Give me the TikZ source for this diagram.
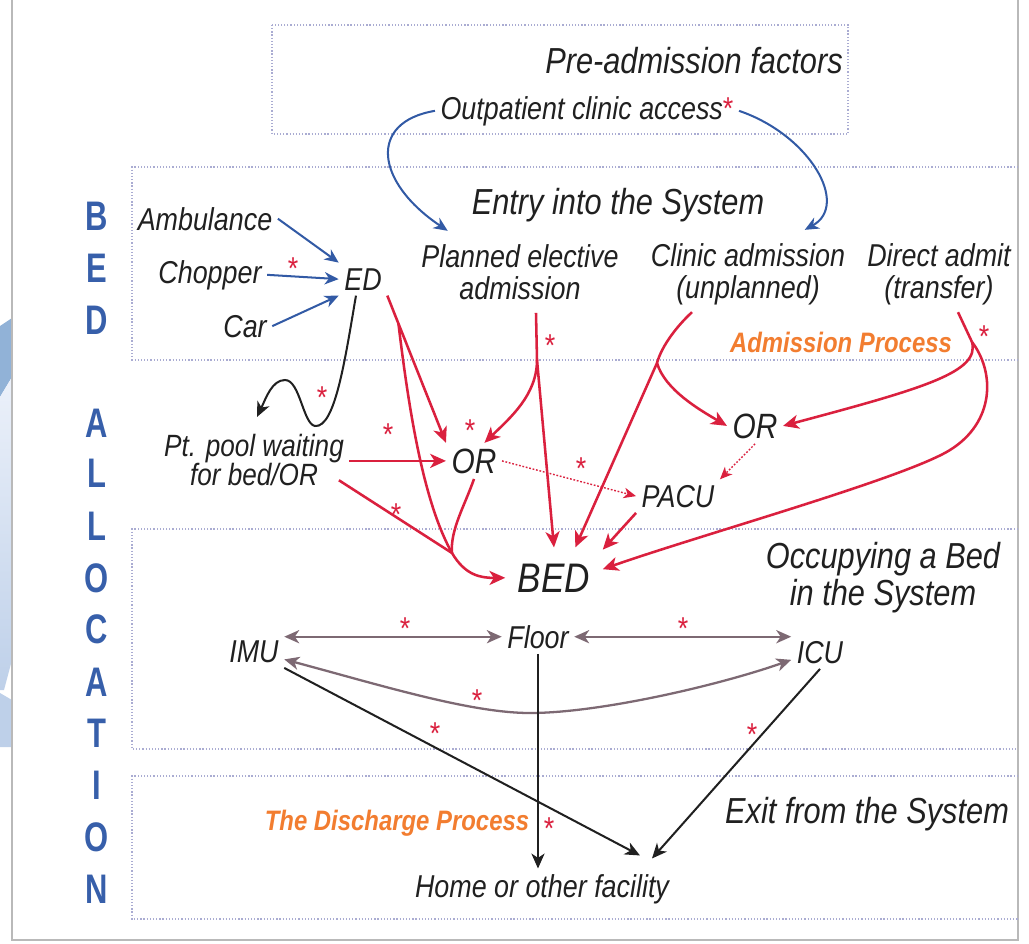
\documentclass[tikz,border=0pt]{standalone}
\usepackage{fontspec}
\setmainfont{Liberation Sans}[FakeStretch=0.85]
\newfontfamily\sidefont{Liberation Sans}[FakeStretch=0.75]
\usetikzlibrary{arrows.meta,calc}

\definecolor{flowred}{RGB}{218,32,62}
\definecolor{flowblue}{RGB}{50,90,165}
\definecolor{sideblue}{RGB}{55,95,170}
\definecolor{procorange}{RGB}{242,125,48}
\definecolor{wardgray}{RGB}{125,105,115}
\definecolor{boxdot}{RGB}{170,172,210}
\definecolor{framegray}{RGB}{185,185,185}
\definecolor{txt}{RGB}{32,32,32}
\definecolor{tabdark}{RGB}{145,178,215}
\definecolor{tablight}{RGB}{236,241,250}
\definecolor{tabmid}{RGB}{190,208,233}

\newcommand\setfs[2]{\fontsize{#1}{#2}\selectfont\lineskiplimit=-20pt\relax}

\tikzset{
  lab/.style={text=txt, font=\itshape\setfs{18}{18}, inner sep=3pt, anchor=base},
  big/.style={lab, font=\itshape\setfs{20.6}{21}},
  proc/.style={text=procorange, font=\bfseries\itshape\setfs{16}{16}, inner sep=2pt, anchor=base},
  side/.style={text=sideblue, font=\sidefont\bfseries\setfs{23.5}{23.5}, inner sep=0pt, anchor=base},
  ast/.style={text=flowred, font=\setfs{18}{18}, inner sep=0pt, anchor=base, yshift=-10pt},
  tipred/.tip={Stealth[length=9pt,width=8pt,inset=2.5pt]},
  redline/.style={draw=flowred, line width=1.45pt},
  redarr/.style={redline, -tipred},
  dotarr/.style={draw=flowred, line width=0.8pt, dash pattern=on 1pt off 1pt,
    -{Stealth[length=7pt,width=6pt,inset=2pt]}},
  bluearr/.style={draw=flowblue, line width=1.15pt, -{Stealth[length=8pt,width=7pt,inset=2.5pt]}},
  blackarr/.style={draw=txt, line width=1.15pt, -{Stealth[length=8.5pt,width=7.5pt,inset=2.5pt]}},
  grayarr/.style={draw=wardgray, line width=1.3pt,
    {Stealth[length=8.5pt,width=7.5pt,inset=2.5pt]}-{Stealth[length=8.5pt,width=7.5pt,inset=2.5pt]}},
  boxline/.style={draw=boxdot, line width=0.7pt, dash pattern=on 0.7pt off 1.1pt},
}

\begin{document}
\begin{tikzpicture}[x=0.02cm, y=-0.02cm]
\useasboundingbox (0,0) rectangle (1029,944);

% page frame and side tab
\fill[tabdark] (0,326) -- (12,318) -- (12,377) -- (0,397) -- cycle;
\shade[top color=tablight, bottom color=tabmid] (0,397) -- (12,377) -- (12,660) -- (4,690) -- (0,690) -- cycle;
\fill[tabmid] (0,693) -- (12,700) -- (12,747) -- (0,747) -- cycle;
\draw[framegray, line width=0.8pt] (12,0) -- (12,940) -- (1018,940) -- (1018,0);

% stage boxes
\draw[boxline] (272,25) rectangle (848,134);
\draw[boxline] (1018,167) -- (132,167) -- (132,360) -- (1018,360);
\draw[boxline] (1018,529) -- (132,529) -- (132,749) -- (1018,749);
\draw[boxline] (1018,776) -- (132,776) -- (132,919) -- (1018,919);

% vertical title
\foreach \ch/\yy [count=\i] in {B/230,E/282,D/334,A/437,L/487,L/540,O/592,C/643,A/696,T/747,I/799,O/851,N/903}
  \node[side] (side\i) at (97,\yy) {\ch};

% labels (multi-line labels are placed by the baseline of their last line)
\node[big] (pre) at (694,73) {Pre-admission factors};
\node[lab] (opc) at (587,119) {Outpatient clinic access{\upshape\textcolor{flowred}{*}}};
\node[big] (entry) at (618,214) {Entry into the System};
\node[lab] (amb) at (205,230) {Ambulance};
\node[lab] (chop) at (210,283) {Chopper};
\node[lab] (car) at (245,337) {Car};
\node[lab] (ed) at (363,290) {ED};
\node[lab, align=center] (plan) at (520,299) {Planned elective\\admission};
\node[lab, align=center] (clin) at (748,298) {Clinic admission\\(unplanned)};
\node[lab, align=center] (dir) at (939,298) {Direct admit\\(transfer)};
\node[proc] (admproc) at (841,352) {Admission Process};
\node[lab, font=\itshape\setfs{17.5}{16}, align=center] (pool) at (254,485) {Pt. pool waiting\\for bed/OR};
\node[lab, font=\itshape\setfs{20}{20}] (orl) at (474,473) {OR};
\node[lab, font=\itshape\setfs{20}{20}] (orr) at (755,438) {OR};
\node[lab] (pacu) at (678,507) {PACU};
\node[lab, font=\itshape\setfs{23.5}{23.5}, inner xsep=7pt, inner ysep=9pt] (bed) at (554,592) {BED};
\node[big, align=center] (occ) at (883,605) {Occupying a Bed\\in the System};
\node[lab] (floor) at (538,648) {Floor};
\node[lab] (imu) at (254,662) {IMU};
\node[lab] (icu) at (820,663) {ICU};
\node[big] (exit) at (867,823) {Exit from the System};
\node[proc] (disch) at (397,830) {The Discharge Process};
\node[lab] (home) at (542,897) {Home or other facility};

% arrivals into ED
\draw[bluearr] (amb.east) -- (ed.north west);
\draw[bluearr] (chop.east) -- (ed.west);
\draw[bluearr] (car.east) -- (ed.south west);

% outpatient clinic feeds
\draw[bluearr] (opc.west) .. controls (368,122) and (375,182) .. ([shift={(32,-8)}]plan.north west);
\draw[bluearr] (opc.east) .. controls (810,135) and (850,205) .. ([shift={(-46,-8)}]clin.north east);

% ED outflows
\coordinate (edfork) at ($(ed.south east)!0.19!(orl.north west)$);
\coordinate (merge) at (452,553);
\draw[redarr] (ed.south east) -- (orl.north west);
\draw[redarr] (edfork) .. controls (410,420) and (425,505) .. (merge)
  .. controls (465,575) and (480,578) .. (bed.west);
\draw[blackarr] ([xshift=-4pt]ed.south) .. controls (345,360) and (335,428) .. (315,426)
  .. controls (303,424) and (300,380) .. (285,380)
  .. controls (272,380) and (266,398) .. ([shift={(3,-12)}]pool.north);

% waiting pool and left OR
\draw[redarr] (orl.west -| pool.east) -- (orl.west);
\draw[redline] ([xshift=-6pt]pool.-12) -- (merge);
\draw[redline] (orl.south) .. controls (465,505) and (450,530) .. (merge);
\draw[dotarr] (orl.east) -- (pacu.west);

% planned elective admission
\coordinate (planfork) at (537,360);
\draw[redline] ([shift={(16,8)}]plan.south) -- (planfork);
\draw[redarr] (planfork) .. controls (537,395) and (510,418) .. (orl.60);
\draw[redarr] (planfork) -- (bed.north);

% clinic admission
\coordinate (clinfork) at (657,363);
\draw[redline] ([shift={(-56,2)}]clin.south) .. controls (678,325) and (662,345) .. (clinfork);
\draw[redarr] (clinfork) -- (bed.55);
\draw[redarr] (clinfork) .. controls (665,390) and (700,410) .. (orr.west);

% direct admission
\coordinate (dirfork) at (972,342);
\draw[redline] ([shift={(19,2)}]dir.south) -- (dirfork);
\draw[redarr] (dirfork) .. controls (980,372) and (925,388) .. (orr.east);
\draw[redarr] (dirfork) .. controls (995,372) and (995,422) .. (950,450)
  .. controls (905,478) and (700,535) .. (bed.10);

% recovery
\draw[dotarr] (orr.south) -- (pacu.north east);
\draw[redarr] (pacu.south west) -- (bed.30);

% transfers between units
\draw[grayarr] (imu.east |- floor.west) -- (floor.west);
\draw[grayarr] (floor.east) -- (floor.east -| icu.west);
\draw[grayarr] (imu.-15) .. controls (380,685) and (470,713) .. (530,713)
  .. controls (600,713) and (720,685) .. (icu.195);

% discharge
\draw[blackarr] (floor.south) -- (floor.south |- home.north);
\draw[blackarr] (imu.south east) -- ([shift={(98,-13)}]home.north);
\draw[blackarr] (icu.south) -- ([shift={(110,-10)}]home.north);

% delay markers
\node[ast] (s1) at (293,262) {*};
\node[ast] (s2) at (322,391) {*};
\node[ast] (s3) at (388,428) {*};
\node[ast] (s4) at (470,424) {*};
\node[ast] (s5) at (550,339) {*};
\node[ast] (s6) at (581,462) {*};
\node[ast] (s7) at (396,508) {*};
\node[ast] (s8) at (984,330) {*};
\node[ast] (s9) at (405,622) {*};
\node[ast] (s10) at (683,622) {*};
\node[ast] (s11) at (477,694) {*};
\node[ast] (s12) at (435,727) {*};
\node[ast] (s13) at (752,728) {*};
\node[ast] (s14) at (549,822) {*};
\end{tikzpicture}
\end{document}
